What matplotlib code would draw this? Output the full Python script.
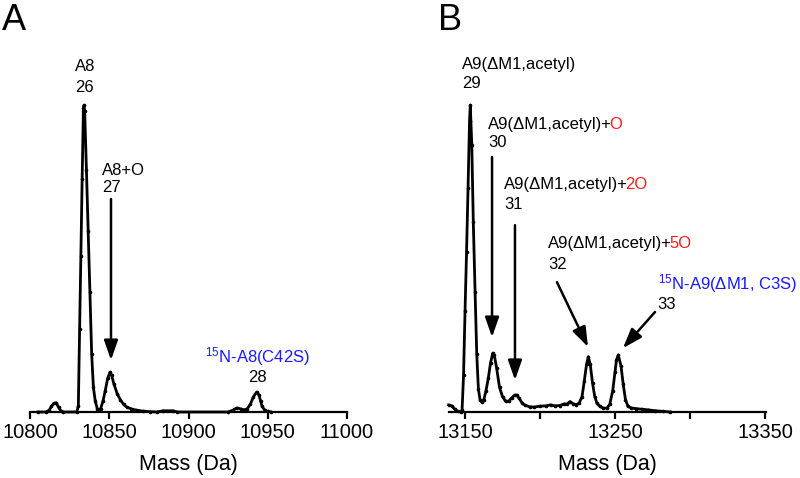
import matplotlib
matplotlib.use("Agg")
import matplotlib.pyplot as plt

plt.rcParams['font.family'] = ['Liberation Sans', 'DejaVu Sans']
plt.rcParams['mathtext.fontset'] = 'custom'
plt.rcParams['mathtext.rm'] = 'Liberation Sans'

# ---------------- data ----------------
mass_a = [10805, 10810, 10812, 10813.5, 10815, 10816.5, 10818, 10819.5, 10821, 10829.5,
          10830.5, 10831.3, 10832.1, 10832.9, 10833.7, 10834.1, 10834.5, 10835.6, 10836.7,
          10837.8, 10838.9, 10840, 10841.2, 10842.5, 10843.3, 10844.5, 10846, 10847.5,
          10849, 10850.5, 10851.5, 10853, 10855, 10857, 10859, 10861, 10864, 10867,
          10871, 10876, 10880, 10884, 10890, 10893, 10925, 10928, 10930.5, 10933, 10935,
          10937, 10939, 10941, 10943, 10944.5, 10945.5, 10946.5, 10948, 10950, 10952]
intens_a = [0, 0, 0.5, 1.8, 2.8, 3.0, 1.5, 0.4, 0, 0,
            2, 27, 51, 76, 99, 100, 98, 79, 59,
            39, 19, 8, 3.5, 1, 0.5, 1, 3.5, 7,
            11, 13, 12, 9, 6, 4, 2.5, 1.6, 1, 0.6,
            0.3, 0.1, 0, 0.4, 0.4, 0, 0, 0.6, 1.3, 1.0, 0.7,
            1.0, 2.5, 5, 6.5, 5.5, 3.5, 1.8, 0.6, 0.2, 0]

mass_b = [13139, 13141, 13143, 13145, 13147, 13148, 13149, 13150, 13151, 13152, 13153,
          13153.5, 13154.5, 13155.5, 13156.7, 13157.8, 13158.9, 13160, 13161.1, 13162.5,
          13164, 13165.5, 13167, 13168.5, 13169.5, 13171, 13173, 13175, 13177, 13179,
          13181, 13183, 13184.5, 13186, 13188, 13190, 13193, 13196, 13200, 13204, 13207,
          13210, 13213, 13216, 13218, 13220, 13222, 13224, 13226, 13228, 13229.5, 13231,
          13232.2, 13233.5, 13235, 13236.5, 13238, 13240, 13242, 13244.5, 13246.5,
          13248.5, 13250, 13251, 13252.2, 13254, 13255.5, 13257, 13258.7, 13261, 13264,
          13268, 13272, 13277, 13282, 13287]
intens_b = [2.3, 2.0, 1.0, 0.2, 0, 0.5, 12, 33, 52, 73, 95,
            100, 87, 62, 39, 19, 7.5, 4, 3.3, 4,
            7, 11, 16, 19.2, 18.5, 14.5, 8, 5, 3.5, 3.5,
            4.5, 5.5, 5.5, 4.5, 3, 2.2, 1.7, 1.6, 1.9, 2.0, 2.3,
            2.0, 2.1, 2.6, 2.6, 3.4, 2.7, 2.4, 2.8, 5, 10, 15.5,
            18, 15.5, 9.5, 5, 2.8, 1.8, 1.3, 1.2, 2.5,
            7, 13, 17, 18.6, 15, 9, 4, 1.8, 1.3, 1.1,
            0.9, 0.7, 0.4, 0.2, 0]

ticks_a = [10800, 10850, 10900, 10950, 11000]
ticks_b = [13150, 13200, 13250, 13300, 13350]
ticklabels_b = ['13150', '', '13250', '', '13350']

BLUE = '#1a1aff'
RED = '#ff1a1a'
LFS = 12

fig = plt.figure(figsize=(8, 4.78), dpi=100)
axA = fig.add_axes([0.0375, 0.13808, 0.39625, 0.778])
axB = fig.add_axes([0.56125, 0.13808, 0.39625, 0.778])

for ax in (axA, axB):
    for s in ('top', 'right', 'left'):
        ax.spines[s].set_visible(False)
    ax.spines['bottom'].set_linewidth(1.6)
    ax.set_yticks([])
    ax.tick_params(axis='x', direction='out', length=4.8, width=1.6, pad=3,
                   labelsize=14.5)
    ax.set_ylim(0, 121.2)
    ax.set_xlabel('Mass (Da)', fontsize=15.5, labelpad=9)

axA.plot(mass_a, intens_a, color='k', lw=2.0, marker='o', ms=1.6, clip_on=False)
axA.set_xlim(10800, 11000)
axA.set_xticks(ticks_a)

axB.plot(mass_b, intens_b, color='k', lw=2.0, marker='o', ms=1.6, clip_on=False)
axB.set_xlim(13139.3, 13350.7)
axB.set_xticks(ticks_b)
axB.set_xticklabels(ticklabels_b)

arrow = dict(arrowstyle='-|>,head_length=1.2,head_width=0.42', lw=1.8, color='k',
             shrinkA=0, shrinkB=0, mutation_scale=10)


def label(ax, x, y, txt, color='k', extra=None, extra_color=RED, fs=LFS):
    t = ax.text(x, y, txt, color=color, fontsize=fs, ha='left', va='baseline')
    if extra:
        ax.annotate(extra, xy=(1, 0), xycoords=t, xytext=(-2.2, 0),
                    textcoords='offset points', color=extra_color, fontsize=fs,
                    ha='left', va='bottom')
    return t


# panel A
label(axA, 10828.4, 111.1, 'A8')
label(axA, 10828.4, 104.2, '26')
label(axA, 10845.4, 77.2, 'A8+O')
label(axA, 10845.4, 71.7, '27')
axA.annotate('', xy=(10851.1, 16.9), xytext=(10851.1, 69.4), arrowprops=arrow)
label(axA, 10910.4, 16.3, r'$\mathregular{^{15}}$N-A8(C42S)', color=BLUE)
label(axA, 10937.5, 9.8, '28')

# panel B
label(axB, 13148, 111.9, 'A9(\u0394M1,acetyl)')
label(axB, 13148, 105.7, '29')
label(axB, 13165.3, 92.3, 'A9(\u0394M1,acetyl)+', extra='O')
label(axB, 13165.3, 86.3, '30')
axB.annotate('', xy=(13168, 24.4), xytext=(13168, 83.1), arrowprops=arrow)
label(axB, 13176, 72.8, 'A9(\u0394M1,acetyl)+', extra='2O')
label(axB, 13176, 66.3, '31')
axB.annotate('', xy=(13183.3, 10.4), xytext=(13183.3, 60.9), arrowprops=arrow)
label(axB, 13205.3, 53.4, 'A9(\u0394M1,acetyl)+', extra='5O')
label(axB, 13205.3, 46.6, '32')
axB.annotate('', xy=(13232, 21.2), xytext=(13211.3, 42.3), arrowprops=arrow)
label(axB, 13278.7, 40.1, r'$\mathregular{^{15}}$N-A9(' + '\u0394M1, C3S)', color=BLUE)
label(axB, 13278, 33.7, '33')
axB.annotate('', xy=(13255.3, 20.8), xytext=(13276.7, 32.6), arrowprops=arrow)

fig.text(0.0025, 0.937, 'A', fontsize=26, ha='left', va='baseline')
fig.text(0.5475, 0.937, 'B', fontsize=26, ha='left', va='baseline')

fig.savefig('out.png', dpi=100)
